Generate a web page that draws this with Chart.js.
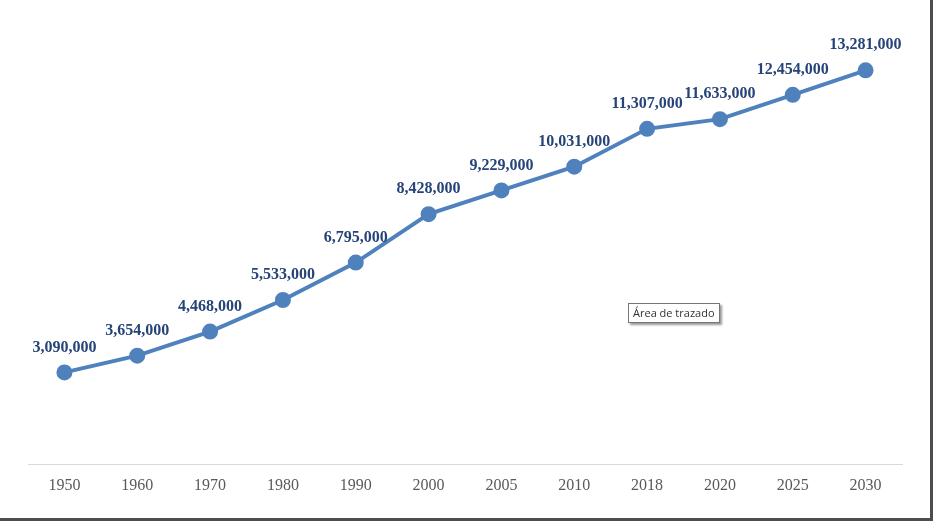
<!DOCTYPE html>
<html>
<head>
<meta charset="utf-8">
<script src="https://cdn.jsdelivr.net/npm/chart.js@4.4.0/dist/chart.umd.min.js"></script>
<style>
  html, body { margin: 0; padding: 0; background: #fff; }
  #wrap { position: relative; width: 936px; height: 524px; overflow: hidden; }
  #frame {
    position: absolute; left: 0; top: 0; width: 930px; height: 518px;
    border-right: 3px solid #4d4d4d; border-bottom: 3px solid #4d4d4d;
    box-sizing: content-box;
  }
  canvas { position: absolute; left: 0; top: 0; }
  #tip {
    position: absolute; left: 628px; top: 303px;
    padding: 1px 4px 2px 4px;
    border: 1px solid #767676; background: #fff;
    font: 11px "Open Sans", "DejaVu Sans", sans-serif; color: #333;
    box-shadow: 2px 2px 2px #9a9a9a;
  }
</style>
</head>
<body>
<div id="wrap">
  <div id="frame"></div>
  <canvas id="popChart" width="930" height="518"></canvas>
  <div id="tip">Área de trazado</div>
</div>
<script>
const years = ['1950', '1960', '1970', '1980', '1990', '2000', '2005', '2010', '2018', '2020', '2025', '2030'];
const population = [3090000, 3654000, 4468000, 5533000, 6795000, 8428000, 9229000, 10031000, 11307000, 11633000, 12454000, 13281000];

// draws the number above each point
const pointLabels = {
  id: 'pointLabels',
  afterDatasetsDraw(chart) {
    const ctx = chart.ctx;
    const meta = chart.getDatasetMeta(0);
    ctx.save();
    ctx.font = 'bold 16px "Liberation Serif", serif';
    ctx.fillStyle = '#264478';
    ctx.textAlign = 'center';
    ctx.textBaseline = 'middle';
    meta.data.forEach((pt, i) => {
      ctx.fillText(population[i].toLocaleString('en-US'), pt.x, pt.y - 25);
    });
    ctx.restore();
  }
};

const ctx = document.getElementById('popChart').getContext('2d');
new Chart(ctx, {
  type: 'line',
  data: {
    labels: years,
    datasets: [{
      data: population,
      borderColor: '#4F81BD',
      backgroundColor: '#4F81BD',
      borderWidth: 4,
      pointRadius: 6,
      pointHoverRadius: 6,
      tension: 0,
      clip: false
    }]
  },
  options: {
    responsive: false,
    animation: false,
    layout: { padding: { left: 28, right: 28, top: 49, bottom: 0 } },
    plugins: {
      legend: { display: false },
      tooltip: { enabled: false }
    },
    scales: {
      x: {
        offset: true,
        grid: { display: false, drawTicks: false },
        border: { display: true, color: '#D9D9D9', width: 1 },
        ticks: {
          color: '#595959',
          padding: 12,
          font: { family: '"Liberation Serif", serif', size: 16 }
        },
        afterFit(scale) { scale.height = 54; }
      },
      y: {
        display: false,
        min: 0,
        max: 14000000
      }
    }
  },
  plugins: [pointLabels]
});
</script>
</body>
</html>
